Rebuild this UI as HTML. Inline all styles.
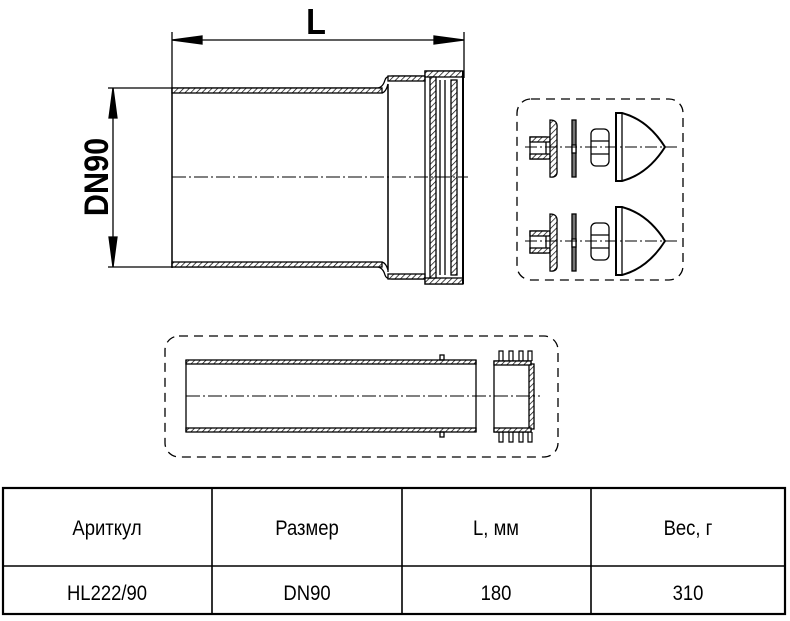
<!DOCTYPE html>
<html><head><meta charset="utf-8"><style>
html,body{margin:0;padding:0;background:#fff;}
svg{display:block;}
text{font-family:"Liberation Sans",sans-serif;}
</style></head><body>
<svg width="790" height="621" viewBox="0 0 790 621" xmlns="http://www.w3.org/2000/svg">
<defs>
<pattern id="h" width="4" height="4" patternUnits="userSpaceOnUse" patternTransform="rotate(45)">
<rect width="4" height="4" fill="#fff"/><line x1="0" y1="0" x2="0" y2="4" stroke="#000" stroke-width="1.4"/>
</pattern>
</defs>
<g stroke="#000" fill="none" stroke-width="1.3">
<line x1="172" y1="32" x2="172" y2="268"/>
<line x1="464" y1="32" x2="464" y2="78"/>
<line x1="172" y1="40" x2="464" y2="40"/>
<polygon points="172,40 202,36 202,44" fill="#000"/>
<polygon points="464,40 434,36 434,44" fill="#000"/>
<line x1="108" y1="88" x2="172" y2="88"/>
<line x1="108" y1="267" x2="172" y2="267"/>
<line x1="113" y1="88" x2="113" y2="267"/>
<polygon points="113,88 109,118 117,118" fill="#000"/>
<polygon points="113,267 109,237 117,237" fill="#000"/>
<path d="M172,88 L378,88 Q383,87 385,80 Q386,76 392,76 L425,76 L425,71 L463,71"/>
<path d="M172,267 L378,267 Q383,268 385,275 Q386,279 392,279 L425,279 L425,284 L463,284"/>
<rect x="172" y="88" width="210" height="5" fill="url(#h)"/>
<rect x="172" y="262" width="210" height="5" fill="url(#h)"/>
<path d="M382,93 Q386,92 388,84 L388,270 Q386,263 382,262"/>
<rect x="388" y="76" width="37" height="5" fill="url(#h)"/>
<rect x="388" y="274" width="37" height="5" fill="url(#h)"/>
<rect x="425" y="71" width="38" height="6" fill="url(#h)"/>
<rect x="425" y="278" width="38" height="6" fill="url(#h)"/>
<line x1="388" y1="84" x2="388" y2="272"/>
<line x1="425" y1="76" x2="425" y2="279"/>
<rect x="430" y="77" width="6" height="201" fill="url(#h)"/>
<line x1="440" y1="80" x2="440" y2="275"/>
<line x1="445" y1="80" x2="445" y2="275"/>
<rect x="451" y="80" width="6" height="195" fill="url(#h)"/>
<line x1="463" y1="71" x2="463" y2="284" stroke-width="2"/>
<line x1="172" y1="88" x2="172" y2="267"/>
<line x1="172" y1="177" x2="468" y2="177" stroke-width="1" stroke-dasharray="14,3,2,3"/>
<rect x="517" y="99" width="166" height="181" rx="14" stroke-dasharray="9,6"/>
<g id="acc">
<rect x="530" y="137" width="16" height="22" fill="#fff"/>
<rect x="530" y="137" width="20" height="5" fill="url(#h)"/>
<rect x="530" y="154" width="20" height="5" fill="url(#h)"/>
<path d="M550,120 Q558,120 557,128 L557,170 Q558,178 550,177 L550,120 Z" fill="url(#h)"/>
<rect x="572" y="120" width="4" height="57" fill="#777"/>
<rect x="572" y="145" width="4" height="8" fill="#fff"/>
<rect x="591" y="129" width="18" height="37" rx="5"/>
<line x1="591" y1="141" x2="609" y2="141"/>
<line x1="591" y1="154" x2="609" y2="154"/>
<path d="M616,113 L622,113 Q648,120 665,147 Q648,174 622,181 L616,181 Z" stroke-width="2"/>
<line x1="622" y1="113" x2="622" y2="181"/>
<line x1="525" y1="147" x2="677" y2="147" stroke-width="0.9" stroke-dasharray="12,3,2,3"/>
</g>
<use href="#acc" transform="translate(0,94)"/>
<rect x="165" y="336" width="393" height="121" rx="14" stroke-dasharray="9,6"/>
<rect x="186" y="360" width="290" height="4" fill="url(#h)"/>
<rect x="186" y="428" width="290" height="4" fill="url(#h)"/>
<line x1="186" y1="360" x2="186" y2="432"/>
<line x1="476" y1="360" x2="476" y2="432"/>
<rect x="440" y="355" width="4" height="5"/>
<rect x="440" y="432" width="4" height="5"/>
<rect x="494" y="361" width="37" height="71"/>
<rect x="529" y="364" width="5" height="65" fill="url(#h)"/>
<rect x="494" y="361" width="37" height="4" fill="url(#h)"/>
<rect x="494" y="428" width="37" height="4" fill="url(#h)"/>
<g stroke-width="1.2">
<path d="M499,361 v-10 h4 v10 M509,361 v-10 h4 v10 M519,361 v-10 h4 v10 M528,361 v-10 h4 v10"/>
<path d="M499,432 v10 h4 v-10 M509,432 v10 h4 v-10 M519,432 v10 h4 v-10 M528,432 v10 h4 v-10"/>
</g>
<line x1="186" y1="396" x2="540" y2="396" stroke-width="0.9" stroke-dasharray="14,3,2,3"/>
<rect x="3" y="488" width="782" height="126" stroke-width="2.2"/>
<line x1="3" y1="566" x2="785" y2="566" stroke-width="1.6"/>
<line x1="212" y1="488" x2="212" y2="614" stroke-width="1.6"/>
<line x1="402" y1="488" x2="402" y2="614" stroke-width="1.6"/>
<line x1="591" y1="488" x2="591" y2="614" stroke-width="1.6"/>
</g>
<text transform="translate(316,34) scale(0.9,1)" font-size="36" font-weight="bold" text-anchor="middle">L</text>
<text transform="translate(108,177) rotate(-90) scale(0.9,1)" font-size="34" font-weight="bold" text-anchor="middle">DN90</text>
<g font-size="21" text-anchor="middle">
<text transform="translate(107,535) scale(0.88,1)">Ариткул</text>
<text transform="translate(307,535) scale(0.88,1)">Размер</text>
<text transform="translate(496,535) scale(0.88,1)">L, мм</text>
<text transform="translate(688,535) scale(0.88,1)">Вес, г</text>
<text transform="translate(107,600) scale(0.88,1)">HL222/90</text>
<text transform="translate(307,600) scale(0.88,1)">DN90</text>
<text transform="translate(496,600) scale(0.88,1)">180</text>
<text transform="translate(688,600) scale(0.88,1)">310</text>
</g>
</svg>
</body></html>
